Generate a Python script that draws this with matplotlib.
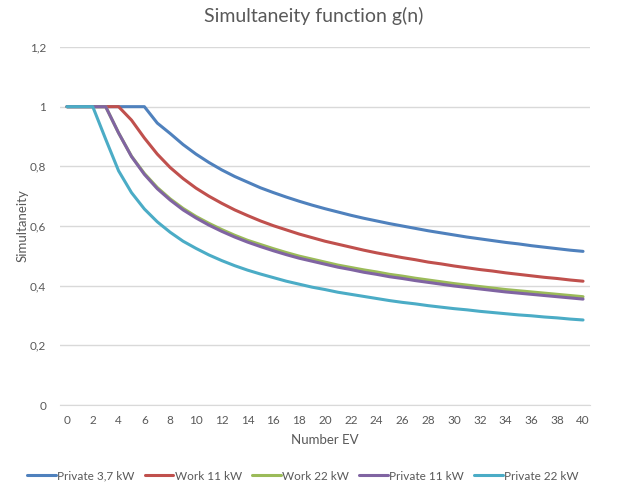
import matplotlib
matplotlib.use("Agg")
import matplotlib.pyplot as plt
from matplotlib.ticker import FuncFormatter

plt.rcParams['font.family'] = ['Lato', 'DejaVu Sans']

n_ev = list(range(0, 41))

private_3_7 = [1, 1, 1, 1, 1, 1, 1, 0.945, 0.910, 0.873, 0.841, 0.813, 0.788, 0.766, 0.747,
               0.728, 0.712, 0.697, 0.683, 0.670, 0.658, 0.647, 0.636, 0.626, 0.617, 0.608,
               0.600, 0.592, 0.584, 0.577, 0.570, 0.563, 0.557, 0.551, 0.545, 0.540, 0.534,
               0.529, 0.524, 0.519, 0.515]
work_11 = [1, 1, 1, 1, 1, 0.955, 0.895, 0.841, 0.796, 0.759, 0.727, 0.700, 0.676, 0.654, 0.635,
           0.617, 0.601, 0.587, 0.573, 0.561, 0.549, 0.539, 0.529, 0.519, 0.510, 0.502,
           0.494, 0.487, 0.479, 0.473, 0.466, 0.460, 0.454, 0.449, 0.443, 0.438, 0.433,
           0.428, 0.424, 0.419, 0.415]
work_22 = [1, 1, 1, 1, 0.912, 0.834, 0.776, 0.729, 0.691, 0.659, 0.632, 0.609, 0.588, 0.569, 0.552,
           0.538, 0.524, 0.511, 0.499, 0.489, 0.479, 0.469, 0.461, 0.453, 0.446, 0.438,
           0.432, 0.425, 0.419, 0.413, 0.407, 0.402, 0.397, 0.392, 0.387, 0.383, 0.379,
           0.375, 0.371, 0.367, 0.363]
private_11 = [1, 1, 1, 1, 0.912, 0.833, 0.773, 0.725, 0.687, 0.654, 0.627, 0.603, 0.582, 0.563, 0.546,
              0.531, 0.517, 0.504, 0.492, 0.482, 0.472, 0.462, 0.454, 0.445, 0.438, 0.430,
              0.424, 0.417, 0.411, 0.405, 0.399, 0.394, 0.389, 0.384, 0.379, 0.375, 0.371,
              0.367, 0.363, 0.359, 0.355]
private_22 = [1, 1, 1, 0.891, 0.785, 0.712, 0.657, 0.614, 0.579, 0.549, 0.525, 0.503, 0.484, 0.467, 0.452,
              0.439, 0.427, 0.415, 0.405, 0.395, 0.387, 0.378, 0.371, 0.364, 0.357, 0.350,
              0.344, 0.339, 0.333, 0.328, 0.323, 0.319, 0.314, 0.310, 0.306, 0.302, 0.299,
              0.295, 0.292, 0.288, 0.285]

series = [
    ("Private 3,7 kW", private_3_7, "#4F81BD"),
    ("Work 11 kW", work_11, "#C0504D"),
    ("Work 22 kW", work_22, "#9BBB59"),
    ("Private 11 kW", private_11, "#8064A2"),
    ("Private 22 kW", private_22, "#4BACC6"),
]

x_ticks = list(range(0, 41, 2))
y_ticks = [0, 0.2, 0.4, 0.6, 0.8, 1.0, 1.2]

text_col = "#595959"
grid_col = "#D9D9D9"

fig = plt.figure(figsize=(6.27, 4.95), dpi=100)
ax = fig.add_axes([60 / 627, 1 - 405 / 495, 530 / 627, (405 - 47) / 495])

for label, vals, col in series:
    ax.plot(n_ev, vals, color=col, lw=2.2, label=label, solid_capstyle='round',
            solid_joinstyle='round', zorder=3)

ax.set_xlim(-0.54, 40.54)
ax.set_ylim(0, 1.2)
ax.set_xticks(x_ticks)
ax.set_yticks(y_ticks)
ax.yaxis.set_major_formatter(FuncFormatter(lambda v, p: ("%g" % round(v, 1)).replace('.', ',')))
ax.grid(axis='y', color=grid_col, lw=1, zorder=0)
ax.set_axisbelow(True)
for s in ['top', 'right', 'left']:
    ax.spines[s].set_visible(False)
ax.spines['bottom'].set_color(grid_col)
ax.tick_params(axis='both', length=0, colors=text_col, labelsize=8.5)
ax.tick_params(axis='x', pad=7)
ax.tick_params(axis='y', pad=10)

ax.set_xlabel("Number EV", color=text_col, fontsize=9.5, labelpad=6)
ax.set_ylabel("Simultaneity", color=text_col, fontsize=9.5, labelpad=1)
fig.suptitle("Simultaneity function g(n)", color=text_col, fontsize=14, y=0.985)

leg = fig.legend(loc='center', bbox_to_anchor=(0.483, 1 - 476 / 495), ncol=5, frameon=False,
                 fontsize=8.5, handlelength=2.4, columnspacing=0.9, handletextpad=0.1)
for t in leg.get_texts():
    t.set_color(text_col)

fig.savefig("out.png", dpi=100)
